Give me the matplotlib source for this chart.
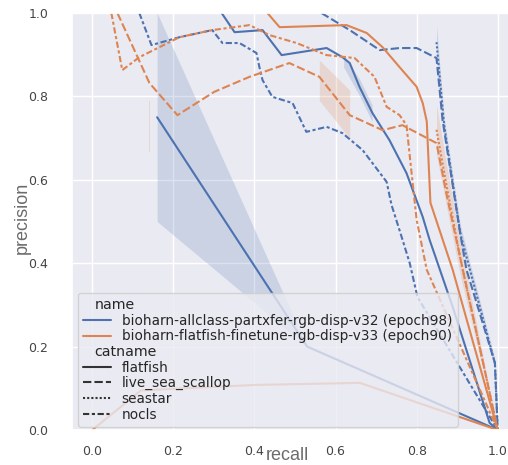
import matplotlib
matplotlib.use('Agg')
import matplotlib.pyplot as plt
from matplotlib.lines import Line2D
from matplotlib import offsetbox
import seaborn as sns

sns.set_theme(style='darkgrid')
plt.rcParams['font.family'] = ['DejaVu Sans']

# ---------------------------------------------------------------
# Farben / Stile
# ---------------------------------------------------------------
BLUE = '#4c72b0'
ORANGE = '#dd8452'
DASH_SOLID = ()
DASH_DASHED = (4, 1.5)
DASH_DOTTED = (1, 1)
DASH_DASHDOT = (3, 1.25, 1.5, 1.25)

NAMES = ['bioharn-allclass-partxfer-rgb-disp-v32 (epoch98)',
         'bioharn-flatfish-finetune-rgb-disp-v33 (epoch90)']
CATNAMES = ['flatfish', 'live_sea_scallop', 'seastar', 'nocls']

# ---------------------------------------------------------------
# Daten
# ---------------------------------------------------------------
# v32 / flatfish
v32_flatfish_recall = [0.319, 0.351, 0.420, 0.467, 0.578, 0.617, 0.635, 0.659, 0.691,
                       0.733, 0.775, 0.815, 0.832, 0.889, 0.980, 1.0]
v32_flatfish_precision = [1.0, 0.954, 0.959, 0.899, 0.916, 0.894, 0.880, 0.823, 0.760,
                          0.695, 0.616, 0.511, 0.456, 0.295, 0.017, 0.0]
v32_flatfish_band_recall = [0.62, 0.66, 0.69]
v32_flatfish_band_lo = [0.87, 0.80, 0.74]
v32_flatfish_band_hi = [0.90, 0.84, 0.78]
# v32 / flatfish, niedriger Recall (mit Konfidenzband)
v32_flatfish_low_recall = [0.16, 0.53, 1.0]
v32_flatfish_low_precision = [0.75, 0.20, 0.0]
v32_flatfish_low_lo = [0.50, 0.20, 0.0]
v32_flatfish_low_hi = [1.0, 0.20, 0.0]

# v32 / live_sea_scallop
v32_scallop_recall = [0.565, 0.635, 0.709, 0.758, 0.800, 0.849, 0.864, 0.906, 0.923, 0.993, 1.0]
v32_scallop_precision = [1.0, 0.959, 0.911, 0.916, 0.916, 0.892, 0.743, 0.480, 0.384, 0.161, 0.0]

# v32 / seastar
v32_seastar_recall = [0.849, 0.868, 0.908, 0.993, 1.0]
v32_seastar_precision = [0.93, 0.73, 0.47, 0.16, 0.0]
v32_seastar_lo = [0.89, 0.71, 0.45, 0.15, 0.0]
v32_seastar_hi = [0.97, 0.75, 0.49, 0.17, 0.0]

# v32 / nocls
v32_nocls_recall = [0.116, 0.146, 0.215, 0.296, 0.321, 0.363, 0.405, 0.412, 0.420, 0.444,
                    0.494, 0.528, 0.578, 0.617, 0.667, 0.726, 0.738, 0.763, 0.783, 0.802, 1.0]
v32_nocls_precision = [1.0, 0.923, 0.942, 0.959, 0.928, 0.928, 0.904, 0.871, 0.839, 0.799,
                       0.784, 0.715, 0.727, 0.712, 0.671, 0.595, 0.540, 0.463, 0.400, 0.319, 0.0]

# v33 / flatfish
v33_flatfish_recall = [0.432, 0.462, 0.627, 0.677, 0.716, 0.758, 0.800, 0.815, 0.825,
                       0.834, 0.889, 1.0]
v33_flatfish_precision = [1.0, 0.966, 0.971, 0.952, 0.918, 0.870, 0.823, 0.784, 0.74,
                          0.545, 0.384, 0.0]
# v33 / flatfish, niedriger Recall
v33_flatfish_low_recall = [0.0, 0.12, 0.40, 0.66, 1.0]
v33_flatfish_low_precision = [0.0, 0.095, 0.108, 0.113, 0.0]

# v33 / live_sea_scallop
v33_scallop_recall = [0.062, 0.141, 0.210, 0.301, 0.388, 0.486, 0.560, 0.635, 0.716,
                      0.765, 0.849, 0.874, 0.914, 1.0]
v33_scallop_precision = [1.0, 0.832, 0.755, 0.811, 0.847, 0.880, 0.847, 0.755, 0.719,
                         0.731, 0.688, 0.564, 0.384, 0.0]
v33_scallop_band_recall = [0.560, 0.635]
v33_scallop_band_lo = [0.79, 0.70]
v33_scallop_band_hi = [0.887, 0.815]
v33_scallop_band2_recall = [0.139, 0.143]
v33_scallop_band2_lo = [0.667, 0.667]
v33_scallop_band2_hi = [0.79, 0.79]

# v33 / seastar
v33_seastar_recall = [0.849, 0.875, 0.910, 1.0]
v33_seastar_precision = [0.72, 0.58, 0.40, 0.0]
v33_seastar_lo = [0.66, 0.53, 0.36, 0.0]
v33_seastar_hi = [0.78, 0.63, 0.44, 0.0]

# v33 / nocls
v33_nocls_recall = [0.047, 0.074, 0.116, 0.215, 0.296, 0.388, 0.437, 0.504, 0.578, 0.647,
                    0.696, 0.726, 0.758, 0.775, 0.788, 0.800, 0.825, 1.0]
v33_nocls_precision = [1.0, 0.863, 0.894, 0.942, 0.959, 0.971, 0.947, 0.928, 0.899, 0.892,
                       0.847, 0.775, 0.755, 0.731, 0.612, 0.504, 0.384, 0.0]

# ---------------------------------------------------------------
# Figur
# ---------------------------------------------------------------
fig = plt.figure(figsize=(5.08, 4.65), dpi=100)
ax = fig.add_axes([72 / 508, 35 / 465, 446 / 508, 417 / 465])

# Konfidenzbänder
ax.fill_between(v32_flatfish_low_recall, v32_flatfish_low_lo, v32_flatfish_low_hi,
                color=BLUE, alpha=0.2, lw=0)
ax.fill_between(v32_flatfish_band_recall, v32_flatfish_band_lo, v32_flatfish_band_hi,
                color=BLUE, alpha=0.2, lw=0)
ax.fill_between(v32_seastar_recall, v32_seastar_lo, v32_seastar_hi,
                color=BLUE, alpha=0.2, lw=0)
ax.fill_between(v33_scallop_band_recall, v33_scallop_band_lo, v33_scallop_band_hi,
                color=ORANGE, alpha=0.2, lw=0)
ax.fill_between(v33_scallop_band2_recall, v33_scallop_band2_lo, v33_scallop_band2_hi,
                color=ORANGE, alpha=0.2, lw=0)
ax.fill_between(v33_seastar_recall, v33_seastar_lo, v33_seastar_hi,
                color=ORANGE, alpha=0.2, lw=0)

# Linien
curves = [
    (v32_flatfish_recall, v32_flatfish_precision, BLUE, DASH_SOLID),
    (v32_flatfish_low_recall, v32_flatfish_low_precision, BLUE, DASH_SOLID),
    (v32_scallop_recall, v32_scallop_precision, BLUE, DASH_DASHED),
    (v32_seastar_recall, v32_seastar_precision, BLUE, DASH_DOTTED),
    (v32_nocls_recall, v32_nocls_precision, BLUE, DASH_DASHDOT),
    (v33_flatfish_recall, v33_flatfish_precision, ORANGE, DASH_SOLID),
    (v33_flatfish_low_recall, v33_flatfish_low_precision, ORANGE, DASH_SOLID),
    (v33_scallop_recall, v33_scallop_precision, ORANGE, DASH_DASHED),
    (v33_seastar_recall, v33_seastar_precision, ORANGE, DASH_DOTTED),
    (v33_nocls_recall, v33_nocls_precision, ORANGE, DASH_DASHDOT),
]
for xs, ys, col, dash in curves:
    ax.plot(xs, ys, color=col, lw=1.5, dashes=dash)

# Achsen
ax.set_xlim(-0.05, 1.05)
ax.set_ylim(0.0, 1.0)
ax.set_xticks([0.0, 0.2, 0.4, 0.6, 0.8, 1.0])
ax.set_yticks([0.0, 0.2, 0.4, 0.6, 0.8, 1.0])
ax.tick_params(axis='both', labelsize=9, labelcolor='#444444')
ax.tick_params(axis='y', pad=11)
ax.tick_params(axis='x', pad=5)

ax.set_xlabel('recall', fontsize=13, color='#6b6b6b', family='Liberation Sans', va='center')
ax.set_ylabel('precision', fontsize=13, color='#6b6b6b', family='Liberation Sans', va='center')
ax.xaxis.set_label_coords(0.482, -0.062)
ax.yaxis.set_label_coords(-0.112, 0.508)

# Legende (seaborn-Stil mit Untertiteln)
handles = [Line2D([], [], color='none', label='name')]
handles += [Line2D([], [], color=c, lw=1.5, label=n) for c, n in zip([BLUE, ORANGE], NAMES)]
handles += [Line2D([], [], color='none', label='catname')]
handles += [Line2D([], [], color='.2', lw=1.5, dashes=d, label=c)
            for c, d in zip(CATNAMES, [DASH_SOLID, DASH_DASHED, DASH_DOTTED, DASH_DASHDOT])]
leg = ax.legend(handles=handles, loc='lower left', bbox_to_anchor=(0.0135, 0.007),
                borderaxespad=0, fontsize=9.8, labelspacing=0.12, framealpha=0.8,
                handlelength=2.0)
for hpack in leg.findobj(offsetbox.VPacker)[0].get_children():
    draw_area, text_area = hpack.get_children()
    label = text_area.get_children()[0].get_text()
    if label in ('name', 'catname'):
        draw_area.set_width(0)
        text_area.get_children()[0].set_size(10.2)

fig.savefig('out.png', dpi=100)
